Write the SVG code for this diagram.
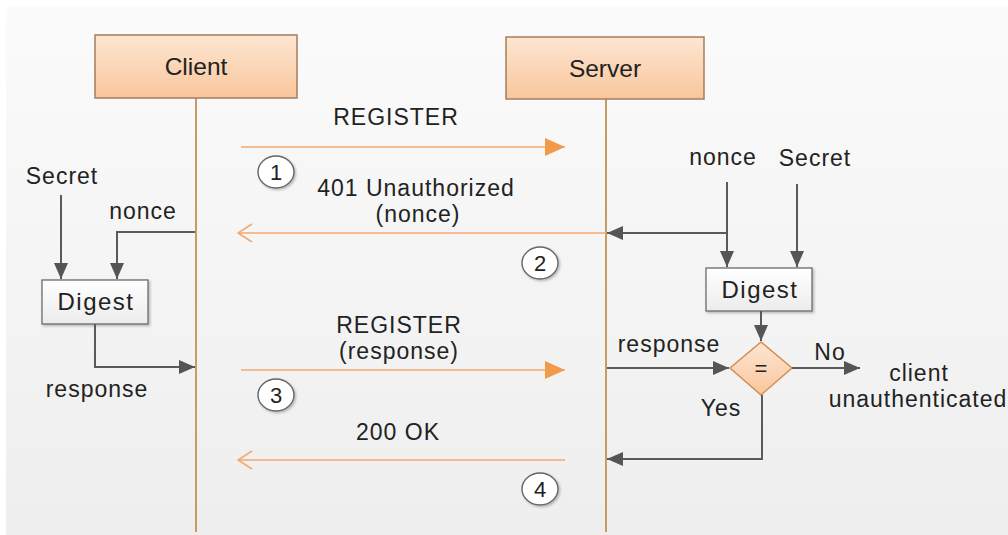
<svg xmlns="http://www.w3.org/2000/svg" width="1008" height="535" viewBox="0 0 1008 535">
  <defs>
    <linearGradient id="bg" x1="0" y1="0" x2="0" y2="1">
      <stop offset="0" stop-color="#fbfbfb"/>
      <stop offset="1" stop-color="#eeeeee"/>
    </linearGradient>
    <linearGradient id="peach" x1="0" y1="0" x2="0" y2="1">
      <stop offset="0" stop-color="#fde6d2"/>
      <stop offset="1" stop-color="#f9c69c"/>
    </linearGradient>
    <linearGradient id="box" x1="0" y1="0" x2="0" y2="1">
      <stop offset="0" stop-color="#ffffff"/>
      <stop offset="1" stop-color="#ececec"/>
    </linearGradient>
    <marker id="solidOrange" viewBox="0 0 20 18" refX="20" refY="9" markerWidth="20" markerHeight="18" markerUnits="userSpaceOnUse" orient="auto">
      <path d="M0,0 L20,9 L0,18 Z" fill="#f29a4a"/>
    </marker>
    <marker id="openOrange" viewBox="0 0 16 20" refX="15" refY="10" markerWidth="16" markerHeight="20" markerUnits="userSpaceOnUse" orient="auto">
      <path d="M1,1 L15,10 L1,19" fill="none" stroke="#f2a870" stroke-width="1.5"/>
    </marker>
    <marker id="grayHead" viewBox="0 0 16 14" refX="16" refY="7" markerWidth="16" markerHeight="14" markerUnits="userSpaceOnUse" orient="auto">
      <path d="M0,0 L16,7 L0,14 Z" fill="#555555"/>
    </marker>
    <filter id="shadow" x="-30%" y="-30%" width="160%" height="160%">
      <feDropShadow dx="1.5" dy="1.5" stdDeviation="1" flood-color="#000" flood-opacity="0.25"/>
    </filter>
    <style>
      text { font-family: "Liberation Sans", Arial, sans-serif; fill: #222222; }
      .lbl { font-size: 23px; letter-spacing: 1px; text-anchor: middle; }
      .num { font-size: 22px; text-anchor: middle; }
      .dig { font-size: 24px; letter-spacing: 1.5px; text-anchor: middle; }
      .head { font-size: 24.5px; text-anchor: middle; }
      .life { stroke: #c99a66; stroke-width: 2; fill: none; }
      .msg { stroke: #f2a870; stroke-width: 1.6; fill: none; }
      .flow { stroke: #5a5a5a; stroke-width: 2; fill: none; }
      .actor { fill: url(#peach); stroke: #a57c5c; stroke-width: 1.5; }
      .digest { fill: url(#box); stroke: #6a6a6a; stroke-width: 1.3; filter: url(#shadow); }
      .step { fill: #ffffff; stroke: #666666; stroke-width: 1.4; filter: url(#shadow); }
    </style>
  </defs>

  <!-- canvas -->
  <rect x="0" y="0" width="1008" height="535" fill="#ffffff"/>
  <rect x="6" y="7" width="1002" height="528" fill="url(#bg)"/>

  <!-- lifelines -->
  <g id="lifelines">
    <line class="life" x1="196" y1="98" x2="196" y2="532"/>
    <line class="life" x1="606" y1="99" x2="606" y2="532"/>
  </g>

  <g id="client">
    <rect class="actor" x="95" y="35" width="202" height="63"/>
    <text class="head" x="196" y="75">Client</text>
  </g>

  <g id="server">
    <rect class="actor" x="506" y="37" width="198" height="62"/>
    <text class="head" x="605" y="77">Server</text>
  </g>

  <g id="client-digest">
    <rect class="digest" x="42" y="280" width="106" height="44"/>
    <text class="dig" x="96" y="310">Digest</text>
  </g>

  <g id="server-digest">
    <rect class="digest" x="706" y="268" width="106" height="43"/>
    <text class="dig" x="760" y="298">Digest</text>
  </g>

  <g id="compare">
    <path d="M761,342 L792,368 L761,395 L730,368 Z" fill="url(#peach)" stroke="#cf8f55" stroke-width="1.5"/>
    <text class="num" x="761" y="376">=</text>
  </g>

  <!-- messages and data flow -->
  <g id="connectors">
    <line class="msg" x1="241" y1="147" x2="565" y2="147" marker-end="url(#solidOrange)"/>
    <line class="msg" x1="606" y1="233" x2="238" y2="233" marker-end="url(#openOrange)"/>
    <line class="msg" x1="241" y1="370" x2="565" y2="370" marker-end="url(#solidOrange)"/>
    <line class="msg" x1="565" y1="460" x2="238" y2="460" marker-end="url(#openOrange)"/>

    <!-- client side -->
    <line class="flow" x1="61" y1="195" x2="61" y2="279" marker-end="url(#grayHead)"/>
    <polyline class="flow" points="195,232 117,232 117,279" marker-end="url(#grayHead)"/>
    <polyline class="flow" points="95,324 95,367 195,367" marker-end="url(#grayHead)"/>

    <!-- server side -->
    <line class="flow" x1="727" y1="182" x2="727" y2="267" marker-end="url(#grayHead)"/>
    <line class="flow" x1="797" y1="184" x2="797" y2="267" marker-end="url(#grayHead)"/>
    <line class="flow" x1="727" y1="233" x2="607" y2="233" marker-end="url(#grayHead)"/>
    <line class="flow" x1="761" y1="311" x2="761" y2="341" marker-end="url(#grayHead)"/>
    <line class="flow" x1="607" y1="368" x2="729" y2="368" marker-end="url(#grayHead)"/>
    <line class="flow" x1="792" y1="368" x2="860" y2="368" marker-end="url(#grayHead)"/>
    <polyline class="flow" points="762,395 762,459 607,459" marker-end="url(#grayHead)"/>
  </g>

  <g id="labels">
    <text class="lbl" x="396" y="125">REGISTER</text>
    <text class="lbl" x="416" y="196">401 Unauthorized</text>
    <text class="lbl" x="418" y="222">(nonce)</text>
    <text class="lbl" x="399" y="333">REGISTER</text>
    <text class="lbl" x="399" y="359">(response)</text>
    <text class="lbl" x="398" y="440">200 OK</text>
    <text class="lbl" x="62" y="184">Secret</text>
    <text class="lbl" x="143" y="219">nonce</text>
    <text class="lbl" x="97" y="397">response</text>
    <text class="lbl" x="723" y="165">nonce</text>
    <text class="lbl" x="815" y="166">Secret</text>
    <text class="lbl" x="669" y="352">response</text>
    <text class="lbl" x="830" y="360">No</text>
    <text class="lbl" x="721" y="416">Yes</text>
    <text class="lbl" x="919" y="381">client</text>
    <text class="lbl" x="918" y="407">unauthenticated</text>
  </g>

  <g id="steps">
    <ellipse class="step" cx="276" cy="172" rx="18" ry="16"/>
    <text class="num" x="276" y="180">1</text>
    <ellipse class="step" cx="540" cy="263" rx="18" ry="16"/>
    <text class="num" x="540" y="271">2</text>
    <ellipse class="step" cx="276" cy="395" rx="18" ry="16"/>
    <text class="num" x="276" y="403">3</text>
    <ellipse class="step" cx="540" cy="489" rx="18" ry="16"/>
    <text class="num" x="540" y="497">4</text>
  </g>
</svg>
